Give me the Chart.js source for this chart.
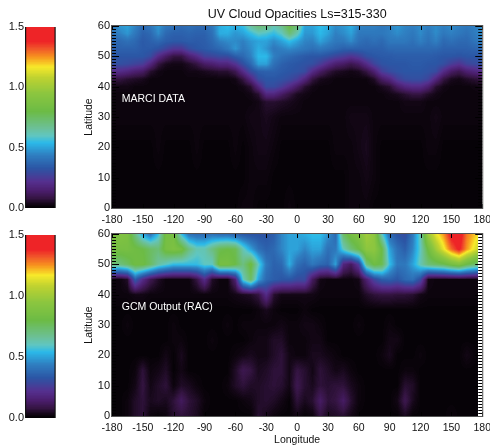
<!DOCTYPE html>
<html>
<head>
<meta charset="utf-8">
<script src="https://cdn.jsdelivr.net/npm/chart.js@4"></script>
<style>
  html, body { margin: 0; padding: 0; background: #fff; overflow: hidden; }
  body { position: relative; width: 490px; height: 445px; overflow: hidden; }
  canvas { position: absolute; }
</style>
</head>
<body>
<script>
// grid nodes, longitude every 7.5 deg
var marciLon = [-180,-172.5,-165,-157.5,-150,-142.5,-135,-127.5,-120,-112.5,-105,-97.5,-90,-82.5,-75,-67.5,-60,-52.5,-45,-37.5,-30,-22.5,-15,-7.5,0,7.5,15,22.5,30,37.5,45,52.5,60,67.5,75,82.5,90,97.5,105,112.5,120,127.5,135,142.5,150,157.5,165,180];
var gcmLon = [-180,-172.5,-165,-157.5,-150,-142.5,-135,-127.5,-120,-112.5,-105,-97.5,-90,-82.5,-75,-67.5,-60,-52.5,-45,-37.5,-30,-22.5,-15,-7.5,0,7.5,15,22.5,30,37.5,45,52.5,60,67.5,75,82.5,90,97.5,105,112.5,120,127.5,135,142.5,150,157.5,165,175.5];
var marciLat = [60,57.5,55,52.5,50,47.5,45,42.5,40,37.5,35,30,20,10,0];
var gcmLat = [60,55,50,45,40,35,30,25,20,15,10,5,0];

// MARCI opacity, one row per marciLat
var marciValues = [
  [.42,.48,.5,.45,.38,.42,.48,.42,.4,.38,.4,.38, .38,.42,.52,.55,.52,.55,.65,.72,.7,.62,.68,.8, .72,.5,.5,.55,.52,.46,.48,.52,.45,.44,.44,.42, .44,.48,.45,.44,.46,.44,.46,.44,.46,.44,.42,.46],
  [.4,.44,.48,.42,.36,.38,.46,.38,.36,.36,.37,.36, .36,.4,.52,.52,.48,.5,.55,.6,.58,.55,.6,.72, .62,.48,.48,.54,.5,.44,.46,.5,.42,.42,.42,.42, .44,.46,.44,.42,.46,.42,.46,.42,.44,.42,.4,.46],
  [.38,.38,.4,.38,.34,.36,.38,.35,.34,.34,.35,.34, .35,.38,.44,.46,.46,.44,.48,.5,.5,.46,.5,.55, .5,.45,.44,.5,.46,.42,.42,.46,.4,.38,.4,.38, .42,.42,.42,.4,.44,.4,.44,.38,.4,.38,.38,.44],
  [.36,.36,.36,.36,.34,.34,.32,.28,.24,.24,.3,.33, .34,.36,.38,.42,.48,.42,.46,.52,.48,.42,.44,.46, .44,.42,.4,.42,.4,.38,.36,.36,.36,.36,.36,.36, .38,.38,.38,.38,.38,.38,.38,.36,.36,.36,.36,.38],
  [.33,.33,.33,.33,.33,.3,.2,.13,.08,.08,.15,.2, .27,.28,.3,.3,.35,.38,.44,.54,.54,.44,.4,.38, .36,.34,.33,.33,.31,.28,.26,.23,.26,.31,.33,.34, .34,.35,.35,.35,.35,.35,.34,.33,.33,.32,.33,.33],
  [.31,.31,.3,.28,.26,.18,.08,.04,.03,.03,.05,.08, .13,.15,.18,.18,.23,.31,.38,.5,.5,.4,.36,.34, .33,.32,.31,.26,.2,.15,.13,.1,.13,.2,.28,.32, .33,.33,.33,.34,.34,.33,.33,.31,.26,.23,.28,.31],
  [.2,.2,.18,.15,.13,.06,.03,.02,.02,.02,.03,.03, .04,.05,.06,.06,.1,.2,.3,.35,.36,.36,.34,.33, .32,.3,.2,.13,.08,.05,.04,.03,.04,.08,.15,.26, .3,.32,.33,.33,.33,.32,.3,.2,.13,.1,.15,.2],
  [.08,.08,.06,.05,.04,.02,.02,.02,.02,.02,.02,.02, .02,.02,.02,.02,.03,.08,.18,.3,.33,.33,.32,.3, .26,.18,.08,.04,.03,.02,.02,.02,.02,.02,.05,.13, .18,.26,.3,.31,.31,.28,.18,.08,.04,.03,.05,.08],
  [.03,.03,.03,.02,.02,.02,.02,.02,.02,.02,.02,.02, .02,.02,.02,.02,.02,.03,.06,.18,.3,.3,.26,.2, .13,.06,.03,.02,.02,.02,.02,.02,.02,.02,.02,.04, .06,.13,.18,.2,.2,.15,.06,.03,.02,.02,.02,.03],
  [.02,.02,.02,.02,.02,.02,.02,.02,.02,.02,.02,.02, .02,.02,.02,.02,.02,.02,.03,.06,.18,.18,.13,.08, .04,.03,.02,.02,.02,.02,.02,.02,.02,.02,.02,.02, .03,.04,.06,.08,.08,.05,.03,.02,.02,.02,.02,.02],
  [.02,.02,.02,.02,.02,.02,.02,.02,.02,.02,.02,.02, .02,.02,.02,.02,.02,.02,.02,.03,.06,.06,.05,.04, .03,.02,.02,.02,.02,.02,.02,.02,.02,.02,.02,.02, .02,.02,.03,.03,.03,.02,.02,.02,.02,.02,.02,.02],
  [.02,.02,.02,.02,.02,.02,.02,.02,.02,.02,.02,.02, .02,.02,.02,.02,.02,.02,.03,.03,.04,.03,.02,.02, .02,.02,.02,.02,.02,.02,.02,.03,.03,.03,.02,.02, .02,.02,.02,.02,.02,.02,.03,.02,.02,.02,.02,.02],
  [.01,.01,.01,.01,.01,.01,.02,.01,.01,.01,.01,.02, .01,.01,.01,.01,.02,.01,.02,.03,.03,.02,.01,.01, .01,.01,.01,.01,.01,.02,.02,.02,.03,.04,.02,.01, .01,.01,.01,.01,.01,.02,.02,.01,.01,.01,.01,.01],
  [.01,.01,.01,.01,.01,.01,.01,.01,.01,.01,.01,.01, .01,.01,.01,.01,.01,.01,.02,.02,.02,.01,.01,.01, .01,.01,.01,.01,.01,.01,.01,.02,.02,.03,.02,.01, .01,.01,.01,.01,.01,.01,.01,.01,.01,.01,.01,.01],
  [.01,.01,.01,.01,.01,.01,.01,.01,.01,.01,.01,.01, .01,.01,.01,.01,.01,.02,.02,.01,.01,.01,.01,.02, .01,.01,.01,.01,.01,.01,.01,.02,.02,.02,.01,.01, .01,.01,.01,.01,.01,.01,.01,.01,.01,.01,.01,.01]
];

// GCM opacity, one row per gcmLat
var gcmValues = [
  [.85,.9,.88,.7,.5,.4,.55,.85,.85,.55,.4,.38, .38,.4,.38,.38,.35,.33,.32,.32,.32,.35,.45,.5, .5,.52,.55,.55,.48,.38,.75,.85,.9,1.0,.95,.6, .38,.32,.3,.42,.62,1.0,1.15,1.25,1.42,1.45,1.28,1.18],
  [.85,.85,.85,.82,.8,.75,.72,.85,.88,.85,.7,.62, .62,.7,.78,.8,.78,.62,.5,.4,.36,.38,.45,.5, .5,.45,.5,.5,.4,.42,.6,.72,.8,.95,.95,.8, .5,.4,.35,.45,.6,.82,1.0,1.15,1.3,1.4,1.25,1.1],
  [.72,.7,.75,.82,.82,.75,.65,.6,.55,.55,.55,.55, .6,.6,.85,.85,.8,.7,.82,.6,.42,.36,.38,.52, .4,.36,.42,.38,.36,.5,.18,.12,.25,.7,.82,.78, .55,.42,.42,.5,.62,.72,.75,.78,.85,.9,.8,.72],
  [.02,.02,.05,.35,.2,.1,.05,.02,.02,.02,.02,.08, .2,.05,.02,.02,.15,.6,.75,.5,.38,.35,.33,.33, .3,.3,.12,.03,.02,.02,.02,.02,.03,.15,.28,.35, .36,.33,.38,.4,.3,.03,.02,.02,.02,.02,.02,.02],
  [.02,.02,.02,.03,.03,.02,.02,.02,.02,.02,.02,.02, .02,.02,.02,.02,.03,.04,.05,.08,.2,.06,.03,.03, .03,.03,.03,.02,.02,.02,.02,.02,.02,.05,.07,.08, .08,.07,.07,.06,.03,.02,.02,.02,.02,.02,.02,.02],
  [.01,.01,.01,.01,.01,.01,.01,.01,.01,.01,.01,.01, .01,.01,.01,.01,.01,.01,.01,.02,.04,.02,.01,.01, .01,.02,.01,.01,.01,.01,.01,.01,.01,.01,.01,.01, .01,.01,.01,.01,.01,.01,.01,.01,.01,.01,.01,.01],
  [.01,.01,.02,.01,.01,.01,.01,.01,.02,.01,.01,.01, .01,.01,.01,.02,.01,.02,.02,.02,.02,.02,.03,.02, .02,.03,.03,.02,.01,.01,.01,.01,.02,.01,.01,.01, .02,.01,.01,.01,.01,.01,.01,.01,.01,.01,.01,.01],
  [.01,.01,.01,.01,.01,.01,.01,.01,.02,.02,.01,.01, .01,.02,.01,.01,.01,.01,.02,.03,.03,.05,.05,.02, .02,.02,.03,.03,.01,.01,.01,.01,.01,.01,.01,.01, .03,.03,.01,.01,.01,.01,.01,.01,.01,.01,.01,.01],
  [.01,.01,.01,.01,.01,.01,.01,.03,.01,.04,.01,.01, .01,.01,.01,.01,.02,.03,.04,.03,.03,.05,.07,.03, .02,.02,.04,.04,.03,.02,.01,.01,.01,.01,.01,.02, .04,.01,.01,.01,.02,.01,.01,.01,.01,.01,.03,.01],
  [.01,.01,.01,.02,.07,.02,.03,.05,.01,.03,.01,.01, .01,.01,.01,.01,.05,.1,.08,.04,.05,.07,.07,.03, .08,.06,.03,.07,.05,.03,.04,.02,.01,.01,.01,.01, .01,.01,.02,.02,.01,.01,.01,.01,.01,.01,.01,.01],
  [.01,.01,.01,.03,.08,.03,.05,.07,.02,.05,.04,.02, .01,.01,.01,.02,.05,.07,.05,.05,.06,.07,.06,.03, .1,.06,.04,.07,.06,.07,.07,.04,.02,.01,.01,.01, .01,.01,.06,.05,.01,.01,.01,.01,.01,.01,.01,.01],
  [.01,.01,.02,.05,.07,.04,.05,.04,.07,.12,.07,.05, .02,.01,.01,.01,.01,.02,.03,.05,.06,.05,.03,.01, .07,.04,.06,.13,.07,.08,.13,.06,.02,.01,.01,.01, .01,.03,.1,.04,.01,.01,.01,.01,.01,.01,.01,.01],
  [.01,.01,.02,.05,.07,.02,.01,.02,.06,.07,.06,.04, .01,.01,.01,.01,.01,.01,.01,.06,.04,.02,.01,.01, .03,.01,.02,.08,.04,.05,.06,.03,.01,.01,.01,.01, .01,.01,.04,.01,.01,.01,.01,.01,.02,.01,.01,.01]
];

// colour bar
var barSides = [0, 1];
var barLevels = [1.5, 1.25, 1, 0.75, 0.5, 0.25, 0];
var barTicks = [0, 0.5, 1, 1.5];

var colorStops = [
  [0, "#000000"], [0.03, "#120614"], [0.08, "#341442"], [0.14, "#4a1d6b"], [0.22, "#55308f"],
  [0.33, "#2b56a5"], [0.44, "#2f7fc1"], [0.54, "#2bb9e9"], [0.6, "#60c6c0"], [0.66, "#6cc098"],
  [0.8, "#6cbb45"], [0.95, "#8cc63f"], [1.08, "#bfd230"], [1.17, "#f7e92a"], [1.25, "#f7941e"],
  [1.32, "#f0562a"], [1.38, "#ee2427"], [1.5, "#ee2427"]
];

function hexRgb(h) {
  return [parseInt(h.substr(1, 2), 16), parseInt(h.substr(3, 2), 16), parseInt(h.substr(5, 2), 16)];
}

var colorTable = [];
for (let i = 0; i <= 300; i++) {
  var v = i / 200;
  var k = 0;
  while (k < colorStops.length - 2 && colorStops[k + 1][0] < v) k++;
  var a = hexRgb(colorStops[k][1]);
  var b = hexRgb(colorStops[k + 1][1]);
  var t = (v - colorStops[k][0]) / (colorStops[k + 1][0] - colorStops[k][0]);
  colorTable.push("rgb(" + Math.round(a[0] + (b[0] - a[0]) * t) + "," + Math.round(a[1] + (b[1] - a[1]) * t) + "," + Math.round(a[2] + (b[2] - a[2]) * t) + ")");
}

function makePoints(xs, ys, rows) {
  var pts = [];
  for (let r = 0; r < ys.length; r++) {
    for (let c = 0; c < xs.length; c++) {
      pts.push({ x: xs[c], y: ys[r], v: rows[r][c] });
    }
  }
  return pts;
}

// paints the cells between the points the library has positioned
var heatPlugin = {
  id: "heat",
  beforeDatasetsDraw: function (chart) {
    var ds = chart.data.datasets[0];
    var els = chart.getDatasetMeta(0).data;
    var nc = ds.cols;
    var nr = ds.data.length / nc;
    var ctx = chart.ctx;
    for (let r = 0; r < nr - 1; r++) {
      for (let c = 0; c < nc - 1; c++) {
        var i = r * nc + c;
        var x0 = els[i].x, x1 = els[i + 1].x, y0 = els[i].y, y1 = els[i + nc].y;
        var v00 = ds.data[i].v, v10 = ds.data[i + 1].v, v01 = ds.data[i + nc].v, v11 = ds.data[i + nc + 1].v;
        for (let py = Math.round(y0); py < Math.round(y1); py++) {
          var fy = (py + 0.5 - y0) / (y1 - y0);
          for (let px = Math.round(x0); px < Math.round(x1); px++) {
            var fx = (px + 0.5 - x0) / (x1 - x0);
            var val = (v00 * (1 - fx) + v10 * fx) * (1 - fy) + (v01 * (1 - fx) + v11 * fx) * fy;
            ctx.fillStyle = colorTable[Math.max(0, Math.min(300, Math.round(val * 200)))];
            ctx.fillRect(px, py, 1, 1);
          }
        }
      }
    }
  },
  afterDraw: function (chart) {
    var ctx = chart.ctx;
    var area = chart.chartArea;
    var opt = chart.options.plugins.heat;
    ctx.save();
    if (opt.isBar) {
      ctx.fillStyle = "#111";
      ctx.fillRect(area.left - 1, area.top, 1.2, area.height);
      ctx.fillRect(area.right - 0.5, area.top, 1.2, area.height);
      ctx.restore();
      return;
    }
    ctx.strokeStyle = "#000";
    ctx.lineWidth = 1;
    chart.scales.y.ticks.forEach(function (tick) {
      var y = Math.round(chart.scales.y.getPixelForValue(tick.value)) + 0.5;
      var len = tick.value % 10 === 0 ? 7 : 4;
      ctx.beginPath();
      ctx.moveTo(area.left, y);
      ctx.lineTo(area.left + len, y);
      ctx.moveTo(area.right, y);
      ctx.lineTo(area.right - len, y);
      ctx.stroke();
    });
    chart.scales.x.ticks.forEach(function (tick) {
      var x = Math.round(chart.scales.x.getPixelForValue(tick.value)) + 0.5;
      ctx.beginPath();
      ctx.moveTo(x, area.top);
      ctx.lineTo(x, area.top + 4);
      ctx.moveTo(x, area.bottom);
      ctx.lineTo(x, area.bottom - 4);
      ctx.stroke();
    });
    ctx.strokeStyle = "#555";
    ctx.strokeRect(area.left - 0.5, area.top - 0.5, area.width + 1, area.height + 1);
    ctx.fillStyle = "#fff";
    ctx.font = "10.5px 'Liberation Sans'";
    ctx.textBaseline = "middle";
    ctx.fillText(opt.label, chart.scales.x.getPixelForValue(-170.5), chart.scales.y.getPixelForValue(36));
    ctx.restore();
  }
};

function addCanvas(left, top, width, height) {
  var canvas = document.createElement("canvas");
  canvas.width = width;
  canvas.height = height;
  canvas.style.left = left + "px";
  canvas.style.top = top + "px";
  canvas.style.width = width + "px";
  canvas.style.height = height + "px";
  document.body.appendChild(canvas);
  return canvas.getContext("2d");
}

function drawPanel(ctx, opts) {
  new Chart(ctx, {
    type: "scatter",
    data: {
      datasets: [{ data: makePoints(opts.lon, opts.lat, opts.values), cols: opts.lon.length, pointRadius: 0, showLine: false }]
    },
    plugins: [heatPlugin],
    options: {
      responsive: false,
      animation: false,
      layout: { padding: opts.padding },
      plugins: {
        legend: { display: false },
        tooltip: { enabled: false },
        heat: { label: opts.label },
        title: opts.title
          ? { display: true, text: opts.title, fullSize: false, color: "#111", font: { family: "Liberation Sans", size: 12.5, weight: "normal", lineHeight: 1.2 }, padding: { top: 7, bottom: 4 } }
          : { display: false }
      },
      scales: {
        x: {
          type: "linear",
          min: -180,
          max: 180,
          grid: { display: false, drawTicks: false },
          border: { display: false },
          ticks: { stepSize: 30, autoSkip: false, maxRotation: 0, padding: 6, color: "#111", font: { family: "Liberation Sans", size: 10.5 } },
          title: opts.xTitle
            ? { display: true, text: opts.xTitle, color: "#111", padding: { top: 0, bottom: -1 }, font: { family: "Liberation Sans", size: 10.5 } }
            : { display: false },
          afterFit: function (scale) { scale.height = opts.xHeight; }
        },
        y: {
          type: "linear",
          min: 0,
          max: 60,
          grid: { display: false, drawTicks: false },
          border: { display: false },
          ticks: {
            stepSize: 1,
            autoSkip: false,
            padding: 2,
            color: "#111",
            font: { family: "Liberation Sans", size: 11 },
            callback: function (value) { return value % 10 === 0 ? String(value) : ""; }
          },
          title: { display: true, text: "Latitude", color: "#111", padding: { top: 3, bottom: 0 }, font: { family: "Liberation Sans", size: 10.5 } },
          afterFit: function (scale) { scale.width = 32; }
        }
      }
    }
  });
}

function drawBar(ctx, padding) {
  new Chart(ctx, {
    type: "scatter",
    data: {
      datasets: [{ data: makePoints(barSides, barLevels, barLevels.map(function (l) { return [l, l]; })), cols: barSides.length, pointRadius: 0, showLine: false }]
    },
    plugins: [heatPlugin],
    options: {
      responsive: false,
      animation: false,
      layout: { padding: padding },
      plugins: { legend: { display: false }, tooltip: { enabled: false }, heat: { isBar: true } },
      scales: {
        x: { type: "linear", min: 0, max: 1, display: false },
        y: {
          type: "linear",
          min: 0,
          max: 1.5,
          grid: { display: false, drawTicks: false },
          border: { display: false },
          afterBuildTicks: function (scale) { scale.ticks = barTicks.map(function (t) { return { value: t }; }); },
          ticks: {
            padding: 2,
            color: "#111",
            font: { family: "Liberation Sans", size: 11 },
            callback: function (value) { return value.toFixed(1); }
          },
          afterFit: function (scale) { scale.width = 26; }
        }
      }
    }
  });
}

drawBar(addCanvas(0, 0, 70, 225), { top: 27, right: 15, bottom: 17 });
drawBar(addCanvas(0, 225, 70, 220), { top: 10, right: 15, bottom: 27 });

drawPanel(addCanvas(80, 0, 417, 225), {
  lon: marciLon, lat: marciLat, values: marciValues,
  label: "MARCI DATA", title: "UV Cloud Opacities Ls=315-330",
  padding: { right: 6 }, xHeight: 17
});
drawPanel(addCanvas(80, 225, 417, 220), {
  lon: gcmLon, lat: gcmLat, values: gcmValues,
  label: "GCM Output (RAC)", xTitle: "Longitude",
  padding: { top: 9, right: 6 }, xHeight: 29
});
</script>
</body>
</html>
